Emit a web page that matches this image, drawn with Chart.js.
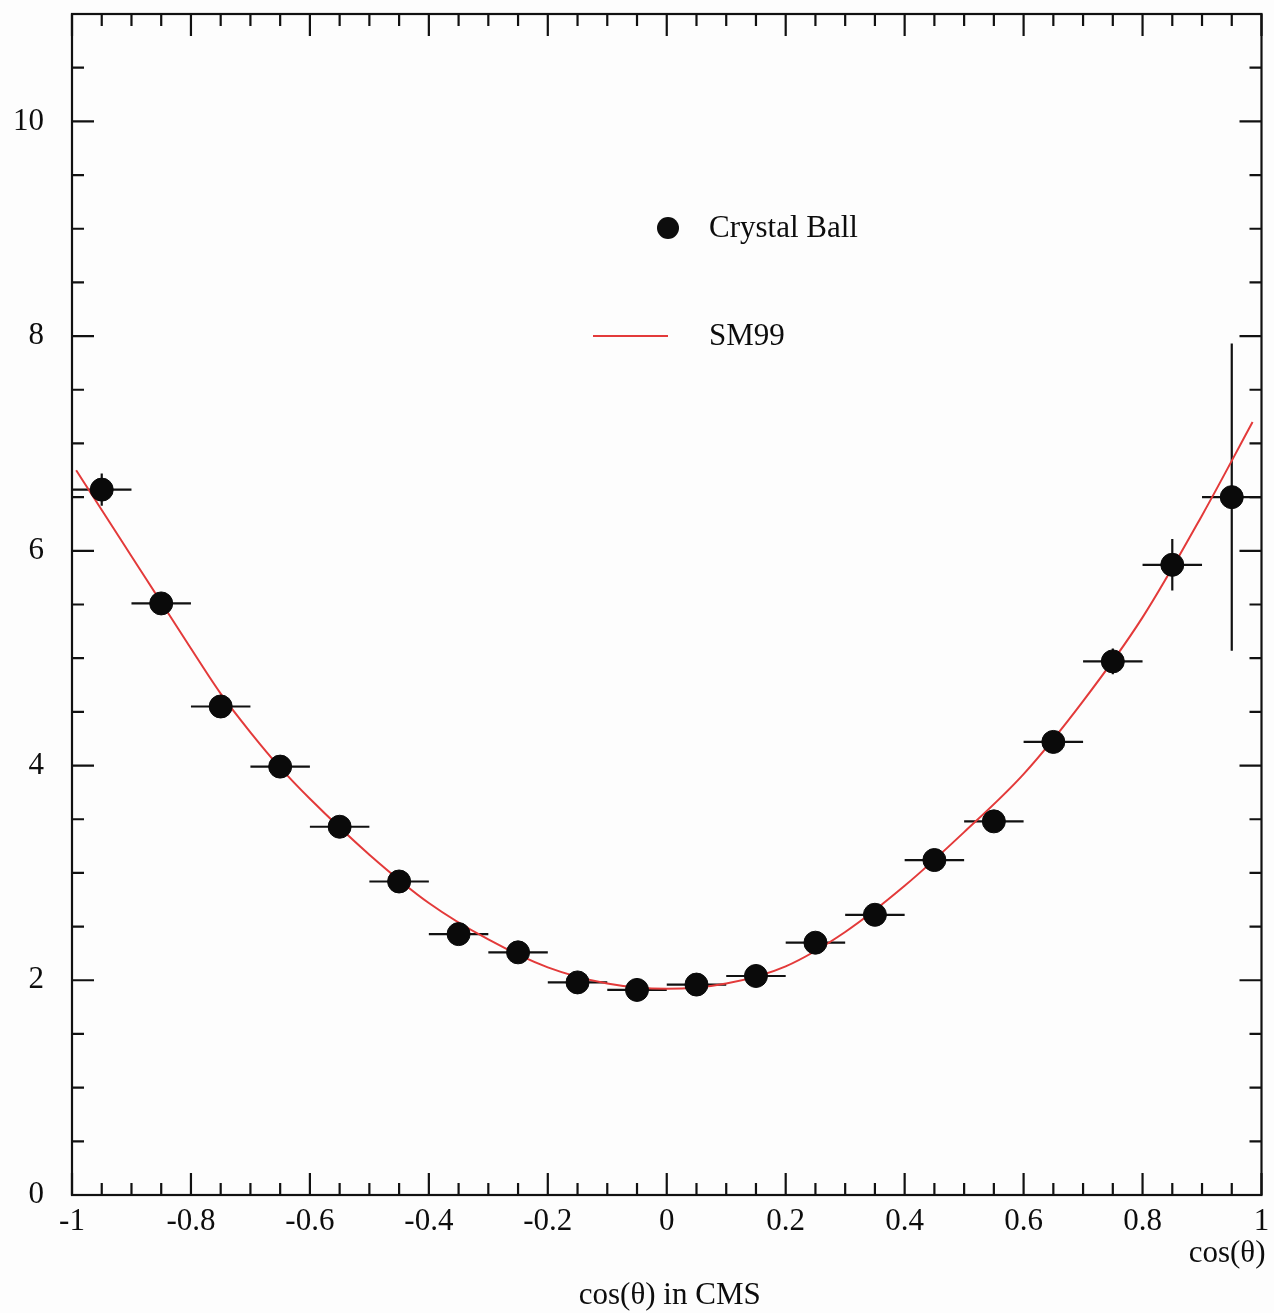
<!DOCTYPE html>
<html>
<head>
<meta charset="utf-8">
<script src="https://cdn.jsdelivr.net/npm/chart.js@4.4.1/dist/chart.umd.min.js"></script>
<style>
  body { margin: 0; background: #fdfdfd; }
  #wrap { position: relative; width: 1274px; height: 1313px; }
</style>
</head>
<body>
<div id="wrap"><canvas id="myChart"></canvas></div>
<script>
// bin centres and measured values (Crystal Ball)
const binCentres = [-0.95, -0.85, -0.75, -0.65, -0.55, -0.45, -0.35, -0.25, -0.15, -0.05,
                    0.05, 0.15, 0.25, 0.35, 0.45, 0.55, 0.65, 0.75, 0.85, 0.95]
const cbValues = [6.57, 5.51, 4.55, 3.99, 3.43, 2.92, 2.43, 2.26, 1.98, 1.91,
                  1.96, 2.04, 2.35, 2.61, 3.12, 3.48, 4.22, 4.97, 5.87, 6.50]
const cbErrors = [0.15, 0.08, 0.07, 0.06, 0.06, 0.05, 0.05, 0.05, 0.05, 0.05,
                  0.05, 0.05, 0.05, 0.05, 0.06, 0.07, 0.08, 0.12, 0.24, 1.43]
const binHalfWidth = 0.05

// SM99 curve
const curveX = [-0.993, -0.95, -0.9, -0.85, -0.8, -0.75, -0.7, -0.65, -0.6, -0.5, -0.4, -0.3, -0.2, -0.1, 0.0,
                0.1, 0.2, 0.3, 0.4, 0.5, 0.6, 0.7, 0.8, 0.9, 0.985]
const curveY = [6.75, 6.38, 5.95, 5.52, 5.09, 4.67, 4.31, 3.98, 3.69, 3.17, 2.72, 2.38, 2.12, 1.97, 1.92,
                1.97, 2.13, 2.45, 2.88, 3.38, 3.92, 4.60, 5.38, 6.33, 7.20]

const xTickLabels = ['-1', '-0.8', '-0.6', '-0.4', '-0.2', '0', '0.2', '0.4', '0.6', '0.8', '1']
const yTickLabels = ['0', '2', '4', '6', '8', '10']

const FONT = '"Liberation Serif", "DejaVu Serif", serif'

const frameAndTicks = {
    id: 'frameAndTicks',
    beforeDatasetsDraw(chart) {
        const { ctx, scales: { x, y } } = chart
        ctx.save()
        // error bars
        ctx.strokeStyle = '#111'
        ctx.lineWidth = 2.2
        binCentres.forEach((c, i) => {
            const px = x.getPixelForValue(c)
            const py = y.getPixelForValue(cbValues[i])
            ctx.beginPath()
            ctx.moveTo(x.getPixelForValue(c - binHalfWidth), py)
            ctx.lineTo(x.getPixelForValue(c + binHalfWidth), py)
            ctx.moveTo(px, y.getPixelForValue(cbValues[i] - cbErrors[i]))
            ctx.lineTo(px, y.getPixelForValue(cbValues[i] + cbErrors[i]))
            ctx.stroke()
        })
        ctx.restore()
    },
    afterDraw(chart) {
        const { ctx, chartArea: a, scales: { x, y } } = chart
        ctx.save()
        ctx.strokeStyle = '#111'
        ctx.lineWidth = 2.2
        ctx.strokeRect(a.left, a.top, a.right - a.left, a.bottom - a.top)

        // x ticks, minor every 0.05, major every 0.2
        for (let k = 0; k <= 40; k++) {
            const v = -1 + k * 0.05
            const px = x.getPixelForValue(v)
            const len = k % 4 === 0 ? 22 : 12
            ctx.beginPath()
            ctx.moveTo(px, a.bottom); ctx.lineTo(px, a.bottom - len)
            ctx.moveTo(px, a.top); ctx.lineTo(px, a.top + len)
            ctx.stroke()
        }
        // y ticks, minor every 0.5, major every 2
        for (let k = 0; k <= 22; k++) {
            const v = k * 0.5
            const py = y.getPixelForValue(v)
            const len = k % 4 === 0 ? 22 : 12
            ctx.beginPath()
            ctx.moveTo(a.left, py); ctx.lineTo(a.left + len, py)
            ctx.moveTo(a.right, py); ctx.lineTo(a.right - len, py)
            ctx.stroke()
        }

        ctx.fillStyle = '#0d0d0d'
        ctx.font = '31px ' + FONT
        ctx.textBaseline = 'top'
        ctx.textAlign = 'center'
        xTickLabels.forEach(l => {
            ctx.fillText(l, x.getPixelForValue(parseFloat(l)), a.bottom + 11)
        })
        ctx.textAlign = 'right'
        ctx.textBaseline = 'middle'
        yTickLabels.forEach(l => {
            ctx.fillText(l, a.left - 28, y.getPixelForValue(parseFloat(l)))
        })

        // axis titles
        ctx.textAlign = 'right'
        ctx.textBaseline = 'top'
        ctx.fillText('cos(θ)', a.right + 4, a.bottom + 43)
        ctx.textAlign = 'center'
        ctx.fillText('cos(θ) in CMS', x.getPixelForValue(0.005), a.bottom + 85)

        // legend
        ctx.beginPath()
        ctx.arc(668, 228, 11, 0, Math.PI * 2)
        ctx.fill()
        ctx.strokeStyle = '#e33a3a'
        ctx.beginPath()
        ctx.moveTo(593, 336); ctx.lineTo(668, 336)
        ctx.stroke()
        ctx.textAlign = 'left'
        ctx.textBaseline = 'middle'
        ctx.fillText('Crystal Ball', 709, 229)
        ctx.fillText('SM99', 709, 337)
        ctx.restore()
    }
}

const ctx = document.getElementById('myChart')
new Chart(ctx, {
    type: 'scatter',
    data: {
        datasets: [
            {
                label: 'Crystal Ball',
                data: binCentres.map((c, i) => ({ x: c, y: cbValues[i] })),
                backgroundColor: '#0a0a0a',
                borderColor: '#0a0a0a',
                pointRadius: 11.5,
                order: 1
            },
            {
                label: 'SM99',
                type: 'line',
                data: curveX.map((c, i) => ({ x: c, y: curveY[i] })),
                borderColor: '#e33a3a',
                borderWidth: 2,
                pointRadius: 0,
                cubicInterpolationMode: 'monotone',
                fill: false,
                order: 2
            }
        ]
    },
    options: {
        responsive: true,
        maintainAspectRatio: false,
        animation: false,
        layout: { padding: { left: 72, right: 7, top: 14, bottom: 118 } },
        scales: {
            x: { type: 'linear', min: -1, max: 1, display: false },
            y: { type: 'linear', min: 0, max: 11, display: false }
        },
        plugins: {
            legend: { display: false },
            tooltip: { enabled: false }
        }
    },
    plugins: [frameAndTicks]
})
</script>
</body>
</html>
